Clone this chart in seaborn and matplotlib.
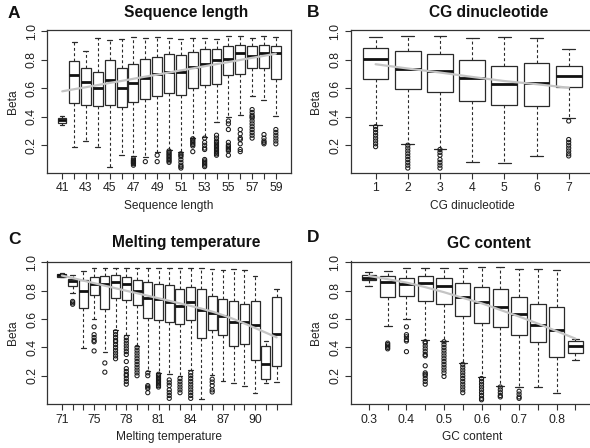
import numpy as np
import pandas as pd
import matplotlib
matplotlib.use("Agg")
import matplotlib.pyplot as plt
import seaborn as sns

# ---------------- Panel A: Sequence length ----------------
len_cats = ["41", "42", "43", "44", "45", "46", "47", "48", "49", "50",
            "51", "52", "53", "54", "55", "56", "57", "58", "59"]
len_lo = [0.345, 0.186, 0.228, 0.186, 0.044, 0.135, 0.123, 0.120, 0.154, 0.170,
          0.153, 0.254, 0.255, 0.366, 0.395, 0.410, 0.546, 0.515, 0.406]
len_q1 = [0.355, 0.497, 0.485, 0.478, 0.485, 0.471, 0.506, 0.527, 0.548, 0.569,
          0.555, 0.604, 0.625, 0.630, 0.690, 0.700, 0.742, 0.742, 0.667]
len_med = [0.375, 0.695, 0.644, 0.604, 0.658, 0.604, 0.639, 0.674, 0.702, 0.711,
           0.712, 0.751, 0.772, 0.795, 0.807, 0.849, 0.826, 0.847, 0.847]
len_q3 = [0.390, 0.793, 0.742, 0.711, 0.798, 0.739, 0.772, 0.805, 0.816, 0.837,
          0.835, 0.854, 0.872, 0.877, 0.896, 0.905, 0.896, 0.905, 0.896]
len_hi = [0.405, 0.924, 0.861, 0.952, 0.940, 0.945, 0.959, 0.952, 0.959, 0.955,
          0.947, 0.952, 0.954, 0.947, 0.963, 0.963, 0.952, 0.963, 0.959]
len_out = [[], [], [], [], [], [],
           [0.105, 0.095, 0.09, 0.085, 0.08, 0.075, 0.07, 0.06],
           [0.085],
           [0.13, 0.085],
           [0.16, 0.15, 0.14, 0.13, 0.12, 0.11, 0.10, 0.09, 0.08],
           [0.14, 0.13, 0.12, 0.10, 0.08, 0.06, 0.05, 0.04],
           [0.245, 0.235, 0.225, 0.215, 0.205, 0.195, 0.155],
           [0.25, 0.22, 0.20, 0.18, 0.17, 0.10, 0.09, 0.08, 0.07, 0.06, 0.05],
           [0.27, 0.25, 0.23, 0.22, 0.21, 0.20, 0.19, 0.18, 0.17, 0.16, 0.15, 0.14, 0.13],
           [0.37, 0.35, 0.31, 0.22, 0.20, 0.19, 0.18, 0.17, 0.16, 0.13],
           [0.31, 0.28, 0.25, 0.24, 0.21, 0.17, 0.155],
           [0.45, 0.43, 0.41, 0.40, 0.39, 0.37, 0.35, 0.33, 0.31, 0.29, 0.27, 0.25],
           [0.275, 0.25, 0.23, 0.22, 0.21],
           [0.31, 0.29, 0.27, 0.25, 0.23, 0.21]]
len_trend = [0.578, 0.593, 0.607, 0.622, 0.637, 0.651, 0.666, 0.681, 0.695, 0.710,
             0.725, 0.739, 0.754, 0.769, 0.783, 0.798, 0.813, 0.827, 0.842]

# ---------------- Panel B: CG dinucleotide ----------------
cg_cats = ["1", "2", "3", "4", "5", "6", "7"]
cg_lo = [0.340, 0.207, 0.172, 0.084, 0.077, 0.121, 0.392]
cg_q1 = [0.662, 0.592, 0.574, 0.508, 0.483, 0.473, 0.606]
cg_med = [0.805, 0.737, 0.718, 0.674, 0.632, 0.634, 0.686]
cg_q3 = [0.882, 0.858, 0.840, 0.800, 0.758, 0.777, 0.758]
cg_hi = [0.959, 0.963, 0.963, 0.952, 0.959, 0.952, 0.877]
cg_out = [[0.33, 0.31, 0.29, 0.27, 0.25, 0.23, 0.21, 0.19],
          [0.20, 0.18, 0.16, 0.14, 0.12, 0.10, 0.08, 0.06, 0.04],
          [0.17, 0.15, 0.13, 0.10, 0.08, 0.06, 0.04],
          [], [], [],
          [0.37, 0.24, 0.22, 0.20, 0.18, 0.16, 0.14, 0.125]]
cg_trend = [0.768, 0.738, 0.710, 0.679, 0.650, 0.628, 0.603]

# ---------------- Panel C: Melting temperature ----------------
tm_cats = ["71", "73", "74", "75", "76", "77", "78", "79", "80", "81", "82",
           "83", "84", "85", "86", "87", "88", "89", "90", "91", "92"]
tm_lo = [0.895, 0.784, 0.398, 0.600, 0.365, 0.520, 0.490, 0.410, 0.230, 0.220, 0.212,
         0.200, 0.240, 0.035, 0.205, 0.162, 0.146, 0.125, 0.078, 0.146, 0.153]
tm_q1 = [0.900, 0.835, 0.675, 0.768, 0.672, 0.750, 0.732, 0.698, 0.605, 0.595, 0.581,
         0.562, 0.593, 0.464, 0.520, 0.487, 0.412, 0.426, 0.313, 0.176, 0.271]
tm_med = [0.910, 0.871, 0.800, 0.850, 0.845, 0.860, 0.850, 0.802, 0.746, 0.741, 0.718,
          0.694, 0.718, 0.666, 0.642, 0.619, 0.576, 0.576, 0.560, 0.280, 0.492]
tm_q3 = [0.920, 0.882, 0.876, 0.898, 0.901, 0.910, 0.896, 0.879, 0.859, 0.849, 0.840,
         0.816, 0.828, 0.812, 0.760, 0.741, 0.727, 0.706, 0.729, 0.407, 0.753]
tm_hi = [0.925, 0.910, 0.941, 0.958, 0.958, 0.958, 0.958, 0.958, 0.958, 0.958, 0.958,
         0.958, 0.958, 0.958, 0.953, 0.946, 0.953, 0.948, 0.906, 0.447, 0.812]
tm_out = [[], [0.725, 0.715, 0.705], [],
          [0.545, 0.49, 0.47, 0.45, 0.44, 0.375],
          [0.29, 0.225],
          [0.51, 0.49, 0.47, 0.45, 0.44, 0.42, 0.40, 0.38, 0.36, 0.34, 0.32],
          [0.47, 0.45, 0.43, 0.41, 0.39, 0.37, 0.35, 0.30, 0.25, 0.23, 0.21, 0.20, 0.18, 0.16, 0.14],
          [0.40, 0.38, 0.36, 0.34, 0.32, 0.30, 0.28, 0.26, 0.24, 0.22, 0.20],
          [0.22, 0.20, 0.13, 0.12, 0.11, 0.08],
          [0.21, 0.20, 0.19, 0.18, 0.17, 0.16, 0.15, 0.14, 0.13, 0.12],
          [0.17, 0.15, 0.13, 0.10, 0.08, 0.06, 0.04],
          [0.18, 0.16, 0.14, 0.12, 0.10, 0.08],
          [0.22, 0.20, 0.18, 0.16, 0.14, 0.12, 0.10, 0.08, 0.06, 0.04],
          [],
          [0.175, 0.155, 0.13, 0.10, 0.085],
          [], [], [], [], [], []]
tm_trend = [0.908, 0.890, 0.872, 0.854, 0.836, 0.818, 0.800, 0.783, 0.765, 0.747, 0.729,
            0.711, 0.693, 0.674, 0.653, 0.628, 0.600, 0.569, 0.537, 0.504, 0.471]

# ---------------- Panel D: GC content ----------------
gc_cats = ["0.3", "0.35", "0.4", "0.45", "0.5", "0.55", "0.6", "0.65", "0.7", "0.75", "0.8", "0.85"]
gc_lo = [0.835, 0.548, 0.600, 0.454, 0.447, 0.289, 0.188, 0.129, 0.122, 0.122, 0.075, 0.311]
gc_q1 = [0.878, 0.753, 0.760, 0.729, 0.706, 0.624, 0.572, 0.541, 0.487, 0.435, 0.329, 0.360]
gc_med = [0.887, 0.859, 0.847, 0.854, 0.831, 0.753, 0.718, 0.682, 0.635, 0.558, 0.522, 0.407]
gc_q3 = [0.911, 0.901, 0.892, 0.906, 0.887, 0.854, 0.828, 0.812, 0.753, 0.706, 0.687, 0.442]
gc_hi = [0.934, 0.941, 0.958, 0.958, 0.958, 0.958, 0.965, 0.965, 0.953, 0.953, 0.948, 0.459]
gc_out = [[],
          [0.43, 0.42, 0.41, 0.40, 0.39],
          [0.545, 0.49, 0.475, 0.455, 0.445, 0.37],
          [0.44, 0.43, 0.41, 0.39, 0.37, 0.35, 0.34, 0.27, 0.22, 0.21, 0.20, 0.18, 0.16, 0.14],
          [0.44, 0.42, 0.40, 0.38, 0.36, 0.34, 0.32, 0.30, 0.28, 0.26, 0.24, 0.22, 0.195],
          [0.28, 0.26, 0.24, 0.22, 0.20, 0.18, 0.16, 0.14, 0.12, 0.10, 0.08],
          [0.18, 0.16, 0.14, 0.12, 0.10, 0.08, 0.06, 0.04, 0.03],
          [0.12, 0.10, 0.08, 0.06, 0.05],
          [0.09, 0.07, 0.05, 0.04],
          [], [], []]
gc_trend = [0.905, 0.882, 0.858, 0.826, 0.790, 0.750, 0.712, 0.665, 0.618, 0.568, 0.515, 0.462]

# ---------------- styling ----------------
sns.set_theme(style="white")
plt.rcParams["font.family"] = ["Liberation Sans", "DejaVu Sans"]
TXT = "#222222"
EDGE = "#2a2a2a"
W, H = 590, 448

fig = plt.figure(figsize=(W / 100, H / 100), dpi=100)


def px_axes(left, top, right, bottom):
    return fig.add_axes([left / W, 1 - bottom / H, (right - left) / W, (bottom - top) / H])


def panel(ax, cats, lo, q1, med, q3, hi, outs, trend, widths, label_step,
          xlabel, ylim):
    n = len(cats)
    for i in range(n):
        vals = [lo[i], q1[i], med[i], q3[i], hi[i]]
        sns.boxplot(x=np.full(5, float(i)), y=vals, orient="x", native_scale=True,
                    width=widths[i], whis=(0, 100), fliersize=0, ax=ax,
                    color="white", saturation=1, linecolor=EDGE, linewidth=0.9,
                    whiskerprops=dict(linestyle=(0, (2.6, 2.2)), linewidth=0.8, color=EDGE),
                    capprops=dict(linewidth=0.9, color=EDGE),
                    medianprops=dict(linewidth=2.0, color="#111111"))
    ox, oy = [], []
    for i, o in enumerate(outs):
        ox += [float(i)] * len(o)
        oy += list(o)
    if ox:
        sns.scatterplot(x=ox, y=oy, ax=ax, marker="o", s=9, facecolor="none",
                        edgecolor="#1a1a1a", linewidth=0.75, zorder=4, legend=False)
    sns.lineplot(x=np.arange(n, dtype=float), y=trend, ax=ax, color="#c4c4c4",
                 linewidth=1.6, zorder=5, legend=False)
    ext = 0.5 + 0.04 * n
    ax.set_xlim(-ext, n - 1 + ext)
    ax.set_ylim(*ylim)
    ax.set_xticks(np.arange(n))
    ax.set_xticklabels([c if i % label_step == 0 else "" for i, c in enumerate(cats)])
    ax.set_yticks([0.2, 0.4, 0.6, 0.8, 1.0])
    ax.set_yticklabels(["0.2", "0.4", "0.6", "0.8", "1.0"], rotation=90, va="center")
    ax.tick_params(axis="both", which="both", direction="out", length=4.3, width=0.8,
                   color="#333333", labelsize=8.8, labelcolor=TXT, bottom=True, left=True)
    ax.tick_params(axis="x", pad=2.6)
    ax.tick_params(axis="y", pad=2.4)
    ax.set_xlabel(xlabel, fontsize=8.6, color=TXT, labelpad=4)
    ax.set_ylabel("Beta", fontsize=8.6, color=TXT, labelpad=5)
    for sp in ax.spines.values():
        sp.set_visible(True)
        sp.set_color("#333333")
        sp.set_linewidth(0.9)
    ax.set_facecolor("white")


axA = px_axes(47.3, 30.0, 290.8, 172.9)
panel(axA, len_cats, len_lo, len_q1, len_med, len_q3, len_hi, len_out, len_trend,
      [0.7] + [0.84] * 18, 2, "Sequence length", (0.006, 1.008))

axB = px_axes(350.5, 30.0, 593.8, 172.9)
panel(axB, cg_cats, cg_lo, cg_q1, cg_med, cg_q3, cg_hi, cg_out, cg_trend,
      [0.8] * 7, 1, "CG dinucleotide", (0.006, 1.008))

axC = px_axes(47.5, 261.5, 291.0, 404.0)
panel(axC, tm_cats, tm_lo, tm_q1, tm_med, tm_q3, tm_hi, tm_out, tm_trend,
      [0.84] * 21, 3, "Melting temperature", (0.0, 1.007))

axD = px_axes(350.5, 261.5, 593.8, 404.0)
panel(axD, gc_cats, gc_lo, gc_q1, gc_med, gc_q3, gc_hi, gc_out, gc_trend,
      [0.75] + [0.82] * 11, 2, "GC content", (0.0, 1.007))

# panel letters and titles
for letter, lx, ly in [("A", 8.0, 18.3), ("B", 306.5, 17.0), ("C", 8.0, 244.0), ("D", 307.0, 242.3)]:
    fig.text(lx / W, 1 - ly / H, letter, fontsize=12.5, fontweight="bold",
             color="#111111", ha="left", va="baseline")
for title, tx, ty in [("Sequence length", 186.5, 16.7), ("CG dinucleotide", 488.5, 17.3),
                      ("Melting temperature", 186.0, 247.3), ("GC content", 488.5, 248.0)]:
    fig.text(tx / W, 1 - ty / H, title, fontsize=11.2, fontweight="bold",
             color="#111111", ha="center", va="baseline")

fig.savefig("out.png", dpi=100)
